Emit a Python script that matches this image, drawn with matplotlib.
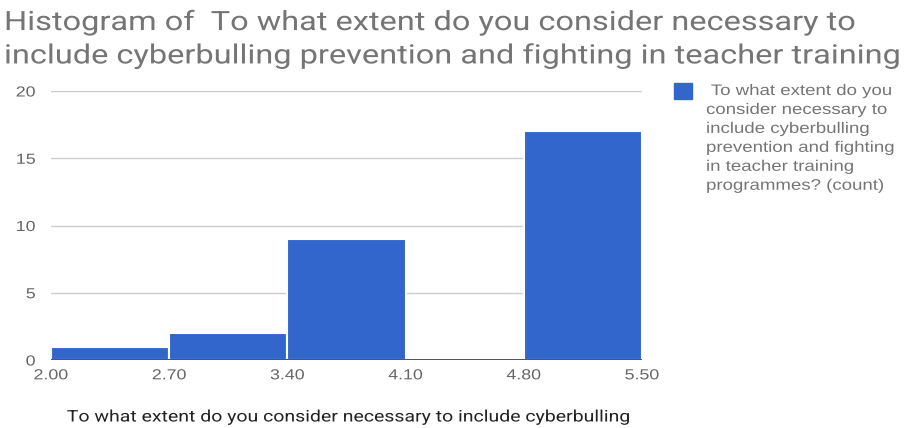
import matplotlib
matplotlib.use("Agg")
import matplotlib.pyplot as plt
import numpy as np
from matplotlib.patheffects import AbstractPathEffect
from matplotlib.transforms import Affine2D

# bin edges and counts of the answers
bin_edges = [2.00, 2.70, 3.40, 4.10, 4.80, 5.50]
counts = [1, 2, 9, 0, 17]
tick_labels = ["2.00", "2.70", "3.40", "4.10", "4.80", "5.50"]
y_ticks = [0, 5, 10, 15, 20]

title = ("Histogram of  To what extent do you consider necessary to\n"
         "include cyberbulling prevention and fighting in teacher training")
legend_label = (" To what extent do you\nconsider necessary to\ninclude cyberbulling\n"
                "prevention and fighting\nin teacher training\nprogrammes? (count)")
x_label = "To what extent do you consider necessary to include cyberbulling"

blue = "#3366cc"
W, H = 914, 428


class StretchX(AbstractPathEffect):
    """Widen glyphs horizontally about a fixed pixel column."""
    def __init__(self, sx, x0):
        super().__init__()
        self.sx = sx
        self.x0 = x0

    def draw_path(self, renderer, gc, tpath, affine, rgbFace=None):
        t = affine + Affine2D().translate(-self.x0, 0).scale(self.sx, 1).translate(self.x0, 0)
        renderer.draw_path(gc, tpath, t, rgbFace)


fig = plt.figure(figsize=(W / 100, H / 100), dpi=100)
ax = fig.add_axes([51 / W, 1 - 360 / H, (642 - 51) / W, (360 - 91) / H])

left = np.array(bin_edges[:-1])
widths = np.diff(bin_edges)
ax.bar(left, counts, width=widths, align="edge", color=blue,
       edgecolor="white", linewidth=1.5, zorder=2)

ax.set_xlim(bin_edges[0], bin_edges[-1])
ax.set_ylim(0, 20)
ax.set_xticks(bin_edges)
ax.set_xticklabels(tick_labels)
ax.set_yticks(y_ticks)
ax.grid(axis="y", color="#cccccc", linewidth=1, zorder=0)
ax.axhline(0, color="#333333", linewidth=1.2, zorder=3)
for s in ax.spines.values():
    s.set_visible(False)
ax.tick_params(length=0, labelsize=10.5, labelcolor="#666666")
ax.tick_params(axis="x", pad=6)
ax.tick_params(axis="y", pad=11)
for lab in ax.get_xticklabels() + ax.get_yticklabels():
    lab.set_family("Liberation Sans")

title_txt = fig.text(4 / W, 1 - 9 / H, title, ha="left", va="top", fontsize=19.2,
                     family="Roboto", color="#757575", linespacing=1.3)

xlab_txt = fig.text(350 / W, 1 - 417 / H, x_label, ha="center", va="center",
                    fontsize=11.5, family="Roboto", color="#222222")

# legend to the right of the plot
fig.patches.append(plt.Rectangle((674 / W, 1 - 99 / H), 18 / W, 16 / H,
                                 transform=fig.transFigure, color=blue))
leg_txt = fig.text(706 / W, 1 - 84 / H, legend_label, ha="left", va="top",
                   fontsize=11, family="Liberation Sans", color="#757575",
                   linespacing=1.45)

# widen every text about its alignment point
fig.canvas.draw()
renderer = fig.canvas.get_renderer()
texts = [title_txt, xlab_txt, leg_txt] + ax.get_xticklabels() + ax.get_yticklabels()
for t in texts:
    bb = t.get_window_extent(renderer)
    ha = t.get_horizontalalignment()
    x0 = {"left": bb.x0, "center": (bb.x0 + bb.x1) / 2, "right": bb.x1}[ha]
    t.set_path_effects([StretchX(1.22, x0)])

fig.savefig("out.png", dpi=100)
